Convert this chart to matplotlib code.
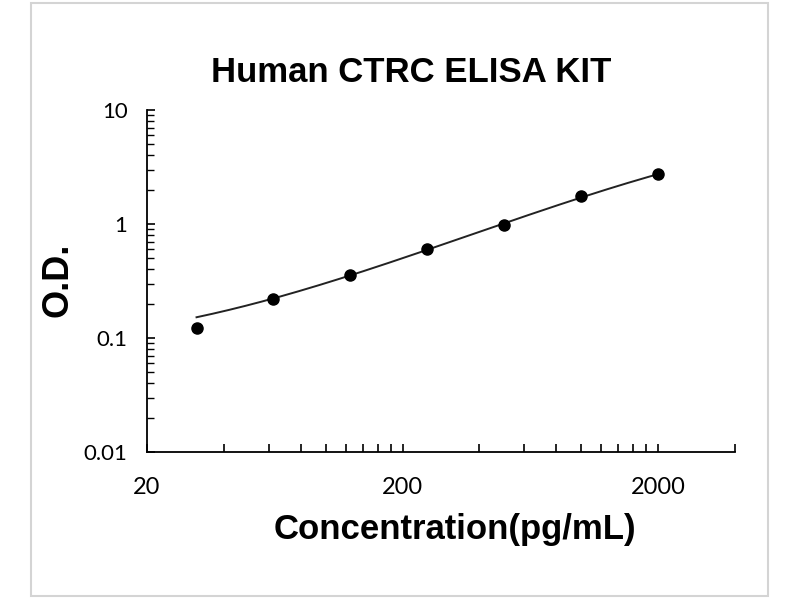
import numpy as np
import matplotlib
matplotlib.use("Agg")
import matplotlib.pyplot as plt
from matplotlib.patches import Rectangle
from matplotlib.ticker import FixedLocator, NullFormatter

# ---- data ----
conc = [31.25, 62.5, 125, 250, 500, 1000, 2000]
od = [0.123, 0.218, 0.354, 0.609, 0.975, 1.77, 2.72]
# values of the fitted standard curve read at each concentration
curve_od = [0.152, 0.222, 0.356, 0.60, 0.985, 1.75, 2.72]

title = "Human CTRC ELISA KIT"
xlabel = "Concentration(pg/mL)"
ylabel = "O.D."
xtick_vals = [20, 200, 2000]
xtick_labels = ["20", "200", "2000"]
ytick_vals = [0.01, 0.1, 1, 10]
ytick_labels = ["0.01", "0.1", "1", "10"]

fig = plt.figure(figsize=(8, 6), dpi=100)
fig.patch.set_facecolor("white")
fig.patches.append(Rectangle((31/800, 1 - 596/600), (768 - 31)/800, (596 - 3)/600,
                             transform=fig.transFigure, fill=False,
                             edgecolor="#d4d4d4", linewidth=1.5))

ax = fig.add_axes([147/800, 1 - 452/600, (735 - 147)/800, (452 - 110)/600])
ax.set_xscale("log")
ax.set_yscale("log")
ax.set_xlim(20, 4000)
ax.set_ylim(0.01, 10)

# trendline: smooth fit through curve values in log-log space
lx = np.log10(conc)
coef = np.polyfit(lx, np.log10(curve_od), 3)
xs = np.linspace(lx[0], lx[-1], 200)
ax.plot(10**xs, 10**np.polyval(coef, xs), color="#222222", lw=1.4, zorder=2)
ax.plot(conc, od, "o", color="black", markersize=8, zorder=3)

for s in ["top", "right"]:
    ax.spines[s].set_visible(False)
for s in ["left", "bottom"]:
    ax.spines[s].set_linewidth(1.3)

# x ticks: Excel-style log base 10 starting at 20
xmaj = [20, 200, 2000, 4000]
xmin = [m * b for b in (20, 200) for m in range(2, 10)]
ax.xaxis.set_major_locator(FixedLocator(xmaj))
ax.xaxis.set_minor_locator(FixedLocator(xmin))
ax.set_xticklabels([])
ax.xaxis.set_minor_formatter(NullFormatter())
ax.tick_params(axis="x", which="both", direction="in", length=6, width=1.2)

ymin = [m * b for b in (0.01, 0.1, 1) for m in range(2, 10)]
ax.yaxis.set_major_locator(FixedLocator(ytick_vals))
ax.yaxis.set_minor_locator(FixedLocator(ymin))
ax.yaxis.set_minor_formatter(NullFormatter())
ax.set_yticklabels(ytick_labels, fontsize=16, family="Lato")
ax.tick_params(axis="y", which="major", direction="in", length=6, width=1.2, pad=14)
ax.tick_params(axis="y", which="minor", direction="in", length=5, width=1.0)

for v, t in zip(xtick_vals, xtick_labels):
    ax.annotate(t, xy=(v, 0.01), xycoords="data", xytext=(0, -36),
                textcoords="offset pixels", ha="center", va="center",
                fontsize=17, family="Lato")

fig.text(411/800, 1 - 72/600, title, ha="center", va="center",
         fontsize=25, fontweight="bold", family="Liberation Sans")
fig.text(455/800, 1 - 530/600, xlabel, ha="center", va="center",
         fontsize=25, fontweight="bold", family="Liberation Sans")
fig.text(58/800, 1 - 280/600, ylabel, ha="center", va="center", rotation=90,
         fontsize=26, fontweight="bold", family="Liberation Sans")

fig.savefig("out.png", dpi=100)
